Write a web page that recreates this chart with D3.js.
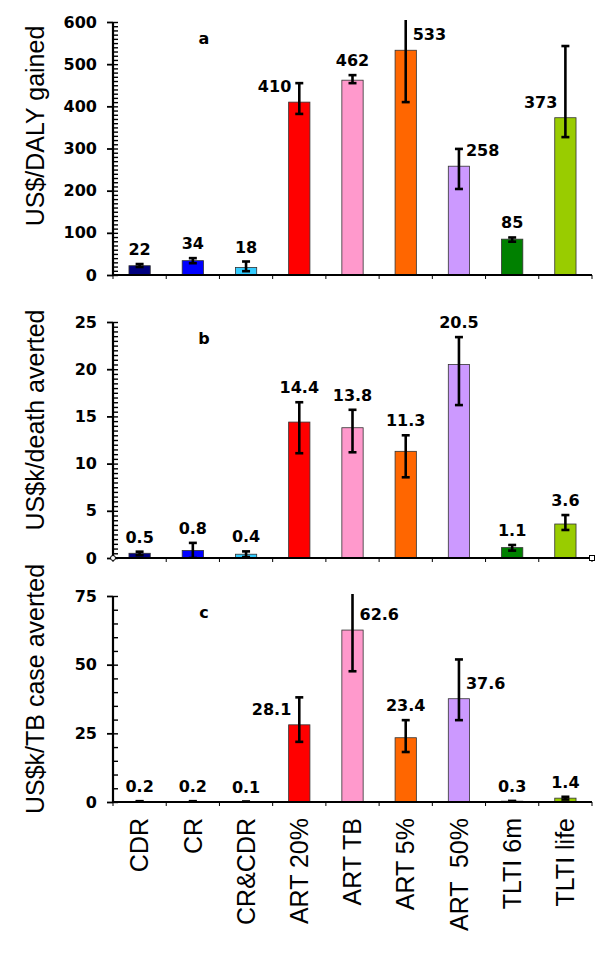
<!DOCTYPE html>
<html>
<head>
<meta charset="utf-8">
<script src="https://cdn.jsdelivr.net/npm/d3@7"></script>
<style>
  html, body { margin: 0; padding: 0; background: #fff; }
  svg { display: block; }
</style>
</head>
<body>
<svg id="chart" width="611" height="980"></svg>
<script>
// ---- data ----
const categories = ["CDR", "CR", "CR&CDR", "ART 20%", "ART TB", "ART 5%", "ART  50%", "TLTI 6m", "TLTI life"];
const colors = ["#000080", "#0000ff", "#33ccff", "#ff0000", "#ff99cc", "#ff6600", "#cc99ff", "#008000", "#99cc00"];

// panel a: US$/DALY gained
const valuesA = [22, 34, 18, 410, 462, 533, 258, 85, 373];
const lowA    = [19, 28, 9, 382, 455, 410, 204, 79, 327];
const highA   = [26, 40, 32, 455, 474, 700, 299, 89, 543];
const labelsA = ["22", "34", "18", "410", "462", "533", "258", "85", "373"];
const placeA  = ["c", "c", "c", "l", "c", "r", "r", "c", "l"];
const ticksA  = [0, 100, 200, 300, 400, 500, 600];

// panel b: US$k/death averted
const valuesB = [0.5, 0.8, 0.4, 14.4, 13.8, 11.3, 20.5, 1.1, 3.6];
const lowB    = [0.3, 0.0, 0.1, 11.1, 11.2, 8.55, 16.2, 0.78, 2.97];
const highB   = [0.67, 1.6, 0.7, 16.5, 15.7, 13.0, 23.4, 1.38, 4.55];
const labelsB = ["0.5", "0.8", "0.4", "14.4", "13.8", "11.3", "20.5", "1.1", "3.6"];
const placeB  = ["c", "c", "c", "c", "c", "c", "c", "c", "c"];
const ticksB  = [0, 5, 10, 15, 20, 25];

// panel c: US$k/TB case averted
const valuesC = [0.2, 0.2, 0.1, 28.1, 62.6, 23.4, 37.6, 0.3, 1.4];
const lowC    = [0.1, 0.1, 0.05, 21.9, 47.6, 18.2, 29.8, 0.2, 0.9];
const highC   = [0.3, 0.3, 0.15, 38.1, 85, 29.8, 51.9, 0.4, 1.9];
const labelsC = ["0.2", "0.2", "0.1", "28.1", "62.6", "23.4", "37.6", "0.3", "1.4"];
const placeC  = ["c", "c", "c", "l", "r", "c", "r", "c", "c"];
const ticksC  = [0, 25, 50, 75];

const panels = [
  { letter: "a", title: "US$/DALY gained",      values: valuesA, low: lowA, high: highA, labels: labelsA, place: placeA, ticks: ticksA, max: 600, minor: 10,  top: 22,  bottom: 275, titleY: 126 },
  { letter: "b", title: "US$k/death averted",   values: valuesB, low: lowB, high: highB, labels: labelsB, place: placeB, ticks: ticksB, max: 25,  minor: 0.5, top: 322, bottom: 558, titleY: 420, markers: true },
  { letter: "c", title: "US$k/TB case averted", values: valuesC, low: lowC, high: highC, labels: labelsC, place: placeC, ticks: ticksC, max: 75,  minor: 5,   top: 596, bottom: 802, titleY: 689 }
];

// ---- layout ----
const left = 113, right = 592;
const numFont = "'DejaVu Sans', sans-serif";
const txtFont = "'Liberation Sans', Arial, sans-serif";

const svg = d3.select("#chart");
const x = d3.scaleBand().domain(categories).range([left, right]).padding(0);
const barW = x.bandwidth() * 0.4;

panels.forEach((p, pi) => {
  const y = d3.scaleLinear().domain([0, p.max]).range([p.bottom, p.top]);
  const g = svg.append("g");

  const clipId = "clip" + pi;
  svg.append("clipPath").attr("id", clipId)
    .append("rect").attr("x", left).attr("y", p.top - 2).attr("width", right - left).attr("height", p.bottom - p.top + 2);

  // bars
  g.selectAll("rect.bar").data(categories).join("rect")
    .attr("class", "bar")
    .attr("x", d => x(d) + x.bandwidth() / 2 - barW / 2)
    .attr("width", barW)
    .attr("y", (d, i) => y(p.values[i]))
    .attr("height", (d, i) => p.bottom - y(p.values[i]))
    .attr("fill", (d, i) => colors[i])
    .attr("stroke", "#333")
    .attr("stroke-width", 0.8);

  // error bars
  const eg = g.append("g").attr("clip-path", `url(#${clipId})`)
    .attr("stroke", "#000").attr("stroke-width", 2.6);
  categories.forEach((c, i) => {
    const cx = x(c) + x.bandwidth() / 2;
    eg.append("line").attr("x1", cx).attr("x2", cx).attr("y1", y(p.low[i])).attr("y2", y(p.high[i]));
    [p.low[i], p.high[i]].forEach(v => {
      eg.append("line").attr("x1", cx - 4).attr("x2", cx + 4).attr("y1", y(v)).attr("y2", y(v));
    });
  });

  // value labels
  categories.forEach((c, i) => {
    const cx = x(c) + x.bandwidth() / 2;
    const t = g.append("text")
      .attr("font-family", numFont).attr("font-weight", "bold").attr("font-size", 16)
      .attr("fill", "#000").text(p.labels[i]);
    const hiY = Math.max(y(p.high[i]), p.top - 2);
    if (p.place[i] === "c") {
      t.attr("x", cx).attr("y", hiY - 9).attr("text-anchor", "middle");
    } else if (p.place[i] === "l") {
      t.attr("x", cx - 8).attr("y", y(p.values[i]) - 10).attr("text-anchor", "end");
    } else {
      t.attr("x", cx + 7).attr("y", y(p.values[i]) - 10).attr("text-anchor", "start");
    }
  });

  // y axis: major ticks outside with labels
  const yAxis = d3.axisLeft(y).tickValues(p.ticks).tickSize(6).tickPadding(10).tickFormat(d3.format("d"));
  const ya = svg.append("g").attr("transform", `translate(${left},0)`).call(yAxis);
  ya.select(".domain").attr("stroke-width", 2.2).attr("d", `M0,${p.bottom}V${p.top}`);
  ya.selectAll(".tick line").attr("stroke-width", 1.8);
  ya.selectAll(".tick text").attr("font-family", numFont).attr("font-weight", "bold")
    .attr("font-size", 16).attr("fill", "#000");

  // minor ticks inside
  const minorVals = d3.range(0, p.max + p.minor / 2, p.minor);
  const ym = svg.append("g").attr("transform", `translate(${left},0)`)
    .call(d3.axisRight(y).tickValues(minorVals).tickSize(5).tickFormat(""));
  ym.select(".domain").remove();
  ym.selectAll(".tick line").attr("stroke-width", 1.4);

  // x axis line and category boundary ticks
  svg.append("line").attr("x1", left).attr("x2", right).attr("y1", p.bottom).attr("y2", p.bottom)
    .attr("stroke", "#000").attr("stroke-width", 2.2);
  const bounds = categories.map(c => x(c)).concat([right]);
  svg.append("g").selectAll("line").data(bounds).join("line")
    .attr("x1", d => d).attr("x2", d => d).attr("y1", p.bottom).attr("y2", p.bottom + 4)
    .attr("stroke", "#000").attr("stroke-width", 1);

  if (p.markers) {
    svg.append("circle").attr("cx", left).attr("cy", p.bottom).attr("r", 2.5)
      .attr("fill", "#fff").attr("stroke", "#000").attr("stroke-width", 1);
    svg.append("rect").attr("x", right - 2.5).attr("y", p.bottom - 2.5).attr("width", 5).attr("height", 5)
      .attr("fill", "#fff").attr("stroke", "#000").attr("stroke-width", 1);
  }

  // panel letter
  svg.append("text").attr("x", 204).attr("y", p.top + 22).attr("text-anchor", "middle")
    .attr("font-family", numFont).attr("font-weight", "bold").attr("font-size", 16).text(p.letter);

  // y title
  svg.append("text")
    .attr("transform", `translate(35,${p.titleY}) rotate(-90)`)
    .attr("text-anchor", "middle").attr("dy", "0.35em")
    .attr("font-family", txtFont).attr("font-size", 25).attr("fill", "#000")
    .text(p.title);
});

// x category labels
svg.append("g").selectAll("text").data(categories).join("text")
  .attr("transform", d => `translate(${x(d) + x.bandwidth() / 2},818) rotate(-90)`)
  .attr("text-anchor", "end").attr("dy", "0.35em")
  .attr("font-family", txtFont).attr("font-size", 25).attr("fill", "#000")
  .style("white-space", "pre")
  .text(d => d);
</script>
</body>
</html>
